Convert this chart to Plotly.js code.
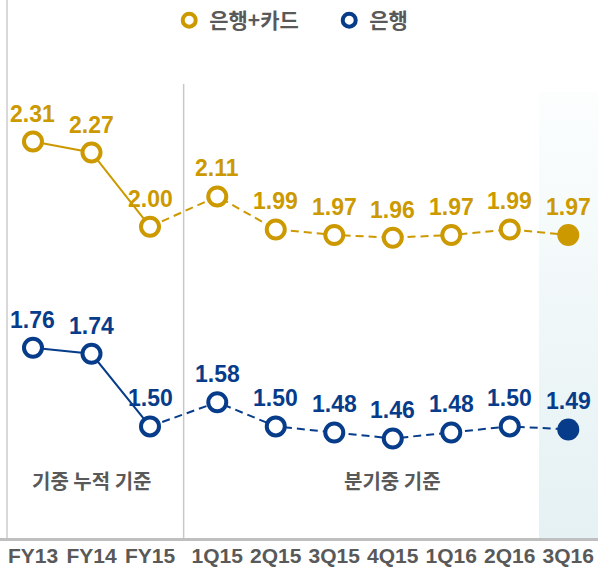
<!DOCTYPE html>
<html>
<head>
<meta charset="utf-8">
<script src="https://cdn.plot.ly/plotly-3.0.1.min.js"></script>
<style>html,body{margin:0;padding:0;background:#fff;}#chart{width:598px;height:569px;}</style>
</head>
<body>
<div id="chart"></div>
<script>
// ---- data ----
const categories = ['FY13','FY14','FY15','1Q15','2Q15','3Q15','4Q15','1Q16','2Q16','3Q16'];
const bankCard = [2.31, 2.27, 2.00, 2.11, 1.99, 1.97, 1.96, 1.97, 1.99, 1.97];
const bank     = [1.76, 1.74, 1.50, 1.58, 1.50, 1.48, 1.46, 1.48, 1.50, 1.49];
const seriesNames = ['은행+카드', '은행'];
const sectionLabels = ['기중 누적 기준', '분기중 기준'];

// ---- styling ----
const GOLD = '#CC9900';
const BLUE = '#073C8A';
const GRAY_TEXT = '#595959';
const NUM_FONT = 'Liberation Sans, Arial, sans-serif';
const KR_FONT = 'Noto Sans CJK KR, sans-serif';

// x positions: annual group then quarterly group with a small extra gap
const xpos = categories.map((c, i) => i < 3 ? i : i + 0.15);
const nSolid = 3;
const xRange = [-0.564, 9.658];

function seriesTraces(vals, color, yax) {
  const last = vals.length - 1;
  return [
    {x: xpos.slice(0, nSolid), y: vals.slice(0, nSolid), yaxis: yax, mode: 'lines',
     line: {color: color, width: 2}, showlegend: false, hoverinfo: 'skip'},
    {x: xpos.slice(nSolid - 1), y: vals.slice(nSolid - 1), yaxis: yax, mode: 'lines',
     line: {color: color, width: 2, dash: '8px,5px'}, showlegend: false, hoverinfo: 'skip'},
    {x: xpos.slice(0, last), y: vals.slice(0, last), yaxis: yax, mode: 'markers',
     marker: {symbol: 'circle', size: 18, color: '#ffffff', line: {color: color, width: 4}},
     showlegend: false, hoverinfo: 'skip'},
    {x: [xpos[last]], y: [vals[last]], yaxis: yax, mode: 'markers',
     marker: {symbol: 'circle', size: 22, color: color, line: {width: 0}},
     showlegend: false, hoverinfo: 'skip'}
  ];
}

const data = [].concat(
  seriesTraces(bankCard, GOLD, 'y'),
  seriesTraces(bank, BLUE, 'y2'),
  [
    {x: [null], y: [null], mode: 'markers', name: seriesNames[0], showlegend: true,
     marker: {symbol: 'circle', size: 13, color: '#ffffff', line: {color: GOLD, width: 4}}},
    {x: [null], y: [null], mode: 'markers', name: seriesNames[1], showlegend: true,
     marker: {symbol: 'circle', size: 13, color: '#ffffff', line: {color: BLUE, width: 4}}}
  ]
);

const annotations = [];
function valueLabels(vals, color, yref) {
  vals.forEach((v, i) => {
    annotations.push({x: xpos[i], y: v, xref: 'x', yref: yref, text: v.toFixed(2),
      showarrow: false, yshift: 28,
      font: {family: NUM_FONT, size: 23, weight: 'bold', color: color}});
  });
}
valueLabels(bankCard, GOLD, 'y');
valueLabels(bank, BLUE, 'y2');

const groupCenters = [
  (xpos[0] + xpos[nSolid - 1]) / 2,
  (xpos[nSolid] + xpos[xpos.length - 1]) / 2
];
sectionLabels.forEach((t, k) => {
  annotations.push({x: groupCenters[k], y: 0.076, xref: 'x', yref: 'paper', text: t,
    showarrow: false, font: {family: KR_FONT, size: 20, weight: 'bold', color: GRAY_TEXT}});
});

const dividerX = (xpos[nSolid - 1] + xpos[nSolid]) / 2;
const bandX = (xpos[xpos.length - 2] + xpos[xpos.length - 1]) / 2;

const gradSvg = '<svg xmlns="http://www.w3.org/2000/svg" width="10" height="100" preserveAspectRatio="none">' +
  '<defs><linearGradient id="g" x1="0" y1="0" x2="0" y2="1">' +
  '<stop offset="0" stop-color="#fcfefe"/><stop offset="0.5" stop-color="#f0f7f8"/><stop offset="1" stop-color="#e5f1f3"/>' +
  '</linearGradient></defs><rect width="10" height="100" fill="url(#g)"/></svg>';

const layout = {
  width: 598, height: 569,
  margin: {l: 0, r: 0, t: 0, b: 31},
  paper_bgcolor: '#ffffff',
  plot_bgcolor: 'rgba(0,0,0,0)',
  showlegend: true,
  legend: {orientation: 'h', x: 0.283, xanchor: 'left', y: 1.0, yanchor: 'top',
    font: {family: KR_FONT, size: 21, weight: 'bold', color: GRAY_TEXT},
    bgcolor: 'rgba(0,0,0,0)', itemwidth: 30, entrywidth: 115, entrywidthmode: 'pixels'},
  xaxis: {range: xRange, tickmode: 'array', tickvals: xpos, ticktext: categories,
    showgrid: false, zeroline: false, showline: true, linecolor: '#bfbfbf', linewidth: 3,
    ticks: '', ticklabelstandoff: -3,
    tickfont: {family: NUM_FONT, size: 21, weight: 'bold', color: GRAY_TEXT},
    fixedrange: true},
  yaxis: {range: [0.867, 2.825], visible: false, fixedrange: true},
  yaxis2: {range: [1.131, 2.9097], overlaying: 'y', visible: false, fixedrange: true},
  shapes: [
    {type: 'line', xref: 'paper', yref: 'paper', x0: 0.0117, x1: 0.0117, y0: 0, y1: 1,
     line: {color: '#d9d9d9', width: 2}},
    {type: 'line', xref: 'x', yref: 'paper', x0: dividerX, x1: dividerX, y0: 0, y1: 0.844,
     line: {color: '#c8c8c8', width: 1.5}}
  ],
  images: [
    {source: 'data:image/svg+xml;charset=utf-8,' + encodeURIComponent(gradSvg),
     xref: 'x', yref: 'paper', x: bandX, y: 0.829, sizex: xRange[1] - bandX, sizey: 0.829,
     xanchor: 'left', yanchor: 'top', sizing: 'stretch', layer: 'below'}
  ],
  annotations: annotations
};

Plotly.newPlot('chart', data, layout, {displayModeBar: false, staticPlot: true});
</script>
</body>
</html>
